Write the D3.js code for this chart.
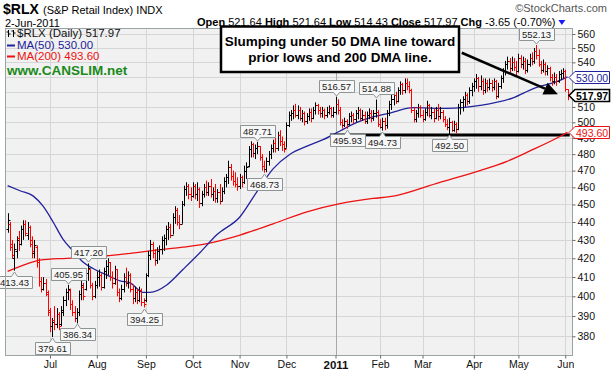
<!DOCTYPE html>
<html>
<head>
<meta charset="utf-8">
<script src="https://cdn.jsdelivr.net/npm/d3@7"></script>
<style>
  body { margin: 0; background: #fff; }
  svg { display: block; font-family: "Liberation Sans", Arial, sans-serif; }
</style>
</head>
<body>
<div id="chart"></div>
<script>
// daily bars, 3-Jun-2010 .. 2-Jun-2011
const opens = [436,439,428,420,424,431,428,436,439,433,437,430,423,426,418,408,404,407,401,
  393,385,388,386,391,386,392,398,402,403,396,392,389,392,401,405,404,412,414,406,400,
  406,410,411,405,413,416,418,410,407,414,402,399,404,410,407,411,404,399,402,398,403,397,
  398,411,422,428,423,419,424,425,430,431,436,437,433,443,447,440,439,450,459,461,456,
  455,461,456,459,451,456,460,457,461,456,458,454,457,452,458,464,466,472,467,464,462,
  461,466,463,470,473,483,486,481,484,485,478,473,471,476,480,484,487,484,492,488,486,
  484,498,505,506,508,505,508,503,506,501,504,507,503,508,511,508,506,508,505,507,509,505,
  507,512,508,500,498,501,499,504,505,502,506,508,503,505,501,505,506,503,506,507,
  499,497,501,498,506,512,515,518,514,521,525,521,526,524,521,508,502,506,510,
  505,502,507,511,505,507,503,508,504,507,502,499,497,500,495,499,496,510,513,515,518,514,521,
  524,527,529,524,527,521,526,523,526,523,527,517,524,529,534,539,541,536,540,537,
  534,543,539,541,535,539,543,541,548,545,539,535,539,534,536,530,527,530,527,532,533,
  534,521.64];
const highs = [445,440,430,428,432,435,438,441,441,440,438,432,430,427,420,410,410,409,403,
  394,389,395,394,392,395,400,404,405.95,404,398,395,394,403,408,407,414,417.20,414,407,408,
  413,414,412,415,419,420,418,413,416,414,404,406,412,415,413,412,406,405,404,405,404,399,
  412,424,430,429,425,426,427,432,433,438,440,439,445,449,448,444,452,461,463,462,460,
  463,462,463,460,458,462,464,463,465,460,462,459,462,460,466,468,476,474,470,469,466,
  468,467,473,475,485,488,487,486,487.71,485,480,476,478,482,486,489,490,494,495,491,488,
  500,507,508,511,512,511,510,508,507,506,509,509,510,513,512,510,510,509,510,511,510,510,
  516.57,515,510,502,503,502,506,507,506,508,510,509,508,507,507,509,508,508,514.88,508,
  502,503,503,508,514,518,521,520,523,527,526,529,529,527,522,510,508,512,511,
  508,509,514,512,510,509,510,512,510,508,504,502,503,501,501,500,512,515,517,520,519,523,526,
  529,532,530,531,529,529,528,529,528,529,528,526,531,536,541,544,543,544,543,541,
  546,545,544,543,542,546,547,550,552.13,549,541,542,540,538,537,532,533,532,534,535,536,
  535,521.64];
const lows = [434,424,420,413.43,420,424,427,430,432,430,426,420,420,415,405,402,403,400,390,
  382,379.61,383,384,383,385,390,395,398,393,390,387,386.34,390,398,398,403,408,404,398,399,
  404,405,403,404,409,411,408,404,406,400,397,398,402,405,404,402,396,397,396,397,395,394.25,
  397,410,419,420,416,417,419,422,424,427,430,431,433,439,438,436,439,449,455,453,452,
  454,453,452,448,449,454,455,455,454,452,451,451,450,452,456,460,462,464,461,460,458,
  459,460,462,465,472,478,478,477,480,476,470,468.73,469,473,477,481,481,482,485,482,481,
  484,497,501,502,503,502,501,500,498,499,501,500,502,505,505,503,503,502,503,505,503,503,
  505,505,498,496,497,495.93,498,500,499,500,502,501,501,499,499,502,500,501,503,497,
  496,494.73,495,496,504,508,511,512,513,518,518,519,521,519,506,500,500,503,503,
  500,501,504,503,502,500,502,501,502,500,497,495,492.50,494,494,493,495,505,507,510,511,512,517,
  520,522,520,521,518,519,520,521,520,521,515,516,522,526,531,535,533,534,534,531,
  533,536,535,532,533,537,538,539,542,537,532,533,531,531,527,524,525,524,526,528,529,
  520,514.43];
const closes = [441,426,422,425,430,428,436,439,434,437,428,424,427,418,408,404,407,402,392,
  385,387,386,391,385,393,398,402,404,396,392,389,392,401,406,400,412,415,406,400,406,
  410,411,405,413,416,418,410,407,414,402,399,404,410,407,411,404,399,402,398,403,397,396,
  411,422,428,423,419,424,425,430,431,436,437,433,443,447,440,439,450,459,461,456,455,
  461,456,459,451,456,460,457,461,456,458,454,457,452,458,464,466,472,467,464,462,461,
  466,463,470,472,483,486,481,484,485,478,473,471,476,480,484,487,484,492,488,486,483,
  498,505,506,508,505,508,503,506,501,504,507,503,508,511,508,506,508,505,507,509,505,507,
  512,508,500,498,501,499,504,505,502,506,508,503,505,501,505,506,503,506,507,499,
  497,501,498,506,512,515,518,514,521,525,521,526,524,521,508,502,506,510,505,
  502,507,511,505,507,503,508,504,507,502,499,497,500,495,499,496,510,513,515,518,514,521,524,
  527,529,524,527,521,526,523,526,523,527,517,524,529,534,539,541,536,540,537,534,
  543,539,541,535,539,543,541,548,545,539,535,539,534,536,530,527,530,527,532,533,534,
  521.62,517.97];

// moving averages, read at sample bars
const ma50Idx = [0,5.6,11.4,15.9,20.4,24.8,29.3,33.8,38.3,44.6,50.4,54.9,60.7,63.8,71.5,78.6,86.2,93.9,104.2,111.8,119,126.6,134.2,141.4,149,156.6,163.8,171.4,181.7,197,211.8,226.6,235.5,247.6,251];
const ma50Val = [461,458,455,449,440,430.5,424,418,414.5,411,408,407,402,402,406,414,423,433,443,457.5,471,480,485,489,494.5,500,503.5,506,509.5,509,511,516,522,527.6,530];
const ma200Idx = [0,8.7,14.5,26.6,41.4,54.9,63.8,78.6,89.4,104.2,119,134.2,149,163.8,171.4,193.8,211.8,223.9,234.2,247.6,251];
const ma200Val = [413,417,419,420,421,422.7,424,426,428,432.7,439,445.8,450.5,453.5,454.5,463,470,475.6,482,491,493.6];

const monthIdx = [19,40,62,83,104,125,147,167,186,209,229,250];
const monthLabels = ["Jul","Aug","Sep","Oct","Nov","Dec","2011","Feb","Mar","Apr","May","Jun"];
const priceTicks = [380,390,400,410,420,430,440,450,460,470,480,490,500,510,520,530,540,550,560];

const labelIdx = [3,20,27,31,36,61,112,115,147,152,165,168,198,237];
const labelSide = ["low","low","high","low","high","low","high","low","high","low","high","low","low","high"];

const supportLevel = 492;
const ma50Last = 530.00, ma200Last = 493.60;

const W = 614, H = 372;
const P = { l: 5, t: 28, r: 572, b: 355 };

const svg = d3.select("#chart").append("svg").attr("width", W).attr("height", H);

const x = d3.scaleLinear().domain([0, closes.length - 1]).range([7.6, 567.5]);
const y = d3.scaleLog().domain([380, 560]).range([336.3, 34]);
const px = v => Math.round(x(v)) + 0.5;
const py = v => Math.round(y(v)) + 0.5;

svg.append("defs").append("clipPath").attr("id", "plotclip")
  .append("rect").attr("x", P.l).attr("y", P.t).attr("width", P.r - P.l).attr("height", P.b - P.t);

// plot background + grid
svg.append("rect").attr("x", P.l).attr("y", P.t).attr("width", P.r - P.l).attr("height", P.b - P.t)
  .attr("fill", "#f1f1f1");

const grid = svg.append("g").attr("clip-path", "url(#plotclip)");
grid.selectAll(".hg").data(priceTicks).enter().append("line")
  .attr("x1", P.l).attr("x2", P.r).attr("y1", d => py(d)).attr("y2", d => py(d))
  .attr("stroke", "#d6d6d6").attr("stroke-width", 1);
grid.selectAll(".vg").data(monthIdx).enter().append("line")
  .attr("x1", d => px(d)).attr("x2", d => px(d)).attr("y1", P.t).attr("y2", P.b)
  .attr("stroke", (d, i) => monthLabels[i] === "2011" ? "#a8a8a8" : "#d6d6d6").attr("stroke-width", 1);

const plot = svg.append("g").attr("clip-path", "url(#plotclip)");

// support line at prior lows
plot.append("line")
  .attr("x1", x(144.5)).attr("x2", x(252)).attr("y1", y(supportLevel)).attr("y2", y(supportLevel))
  .attr("stroke", "#000").attr("stroke-width", 3);

// moving averages
const maLine = d3.line().x(d => x(d[0])).y(d => y(d[1])).curve(d3.curveMonotoneX);
plot.append("path").datum(d3.zip(ma200Idx, ma200Val)).attr("d", maLine)
  .attr("fill", "none").attr("stroke", "#ee1111").attr("stroke-width", 1.3);
plot.append("path").datum(d3.zip(ma50Idx, ma50Val)).attr("d", maLine)
  .attr("fill", "none").attr("stroke", "#22229c").attr("stroke-width", 1.3);

// OHLC bars, red when close is below prior close
const bars = closes.map((c, i) => ({ i, o: opens[i], h: highs[i], l: lows[i], c,
  down: i > 0 && c < closes[i - 1] }));
plot.selectAll(".bar").data(bars).enter().append("path")
  .attr("d", d => {
    const cx = px(d.i);
    return `M${cx},${y(d.h)}V${y(d.l)}M${cx - 2},${py(d.o)}H${cx}M${cx},${py(d.c)}H${cx + 2}`;
  })
  .attr("fill", "none")
  .attr("stroke", d => d.down ? "#ff0000" : "#000")
  .attr("stroke-width", 1);

// high/low value callouts
const callouts = svg.append("g").attr("font-size", "9.5px");
labelIdx.forEach((idx, k) => {
  const side = labelSide[k];
  const v = side === "high" ? highs[idx] : lows[idx];
  const cx = px(idx);
  const g = callouts.append("g");
  const path = g.append("path");
  const t = g.append("text").text(v.toFixed(2)).attr("text-anchor", "middle").attr("fill", "#222");
  const w = t.node().getComputedTextLength() + 6;
  const l = Math.round(cx - w / 2) + 0.5, r = l + Math.round(w);
  let d;
  if (side === "high") {
    const tip = Math.round(y(v)) - 1;
    const b = tip - 4 + 0.5, top = b - 12;
    d = `M${l},${top}H${r}V${b}H${cx + 3}L${cx},${tip}L${cx - 3},${b}H${l}Z`;
    t.attr("x", cx).attr("y", b - 2.5);
  } else {
    const tip = Math.round(y(v)) + 1;
    const top = tip + 4 + 0.5, b = top + 12;
    d = `M${l},${top}H${cx - 3}L${cx},${tip}L${cx + 3},${top}H${r}V${b}H${l}Z`;
    t.attr("x", cx).attr("y", b - 2.5);
  }
  path.attr("d", d).attr("fill", "#f7f7f7").attr("stroke", "#8c9494").attr("stroke-width", 1);
});

// plot border
svg.append("rect").attr("x", P.l + 0.5).attr("y", P.t + 0.5)
  .attr("width", P.r - P.l).attr("height", P.b - P.t)
  .attr("fill", "none").attr("stroke", "#9aa4a4");

// right axis (labels under the price tags are hidden, as on the original)
const yAxis = svg.append("g").attr("transform", `translate(${P.r + 0.5},0)`)
  .call(d3.axisRight(y).tickValues(priceTicks).tickSize(3).tickPadding(2).tickFormat(d3.format("d")));
yAxis.select(".domain").remove();
yAxis.selectAll("line").attr("stroke", "#666");
yAxis.selectAll("text").attr("font-size", "10.5px").attr("font-family", "Liberation Sans, Arial, sans-serif").attr("fill", "#111");
yAxis.selectAll(".tick").filter(d => d === 520 || d === 530).select("text").remove();

// bottom axis
const xAxis = svg.append("g").attr("transform", `translate(0,${P.b + 0.5})`)
  .call(d3.axisBottom(x).tickValues(monthIdx).tickSize(3).tickPadding(2)
    .tickFormat((d, i) => monthLabels[i]));
xAxis.select(".domain").remove();
xAxis.selectAll("line").attr("stroke", "#666");
xAxis.selectAll("text").attr("font-family", "Liberation Sans, Arial, sans-serif")
  .attr("fill", "#111")
  .attr("font-weight", (d, i) => monthLabels[i] === "2011" ? "bold" : null)
  .attr("font-size", (d, i) => monthLabels[i] === "2011" ? "11.5px" : "10.5px");

// right-edge price tags
function priceTag(v, color, bold) {
  const yy = Math.round(y(v)) + 0.5;
  svg.append("path").attr("d", `M${P.r - 3},${yy}L${P.r + 3},${yy - 6}H609.5V${yy + 6}H${P.r + 3}Z`)
    .attr("fill", "#fff").attr("stroke", color).attr("stroke-width", bold ? 1.6 : 1);
  svg.append("text").attr("x", P.r + 4).attr("y", yy + 4).text(v.toFixed(2))
    .attr("fill", color).attr("font-size", "10.5px").attr("font-weight", bold ? "bold" : null);
}
priceTag(ma50Last, "#22229c", false);
priceTag(closes[closes.length - 1], "#000", true);
priceTag(ma200Last, "#ee1111", false);

// annotation
const note = svg.append("g");
note.append("rect").attr("x", 221).attr("y", 26.5).attr("width", 238).attr("height", 45.5)
  .attr("fill", "#fff").attr("stroke", "#000").attr("stroke-width", 2.5);
note.append("text").attr("x", 340).attr("y", 45.5).attr("text-anchor", "middle")
  .attr("font-weight", "bold").attr("font-size", "13.5px").text("Slumping under 50 DMA line toward");
note.append("text").attr("x", 340).attr("y", 61.5).attr("text-anchor", "middle")
  .attr("font-weight", "bold").attr("font-size", "13.5px").text("prior lows and 200 DMA line.");

const a0 = [x(203.6), y(546.7)], a1 = [x(246.7), y(518.4)];
const ang = Math.atan2(a1[1] - a0[1], a1[0] - a0[0]);
const hl = 14, hw = 6.5;
const base = [a1[0] - hl * Math.cos(ang), a1[1] - hl * Math.sin(ang)];
note.append("line").attr("x1", a0[0]).attr("y1", a0[1]).attr("x2", base[0]).attr("y2", base[1])
  .attr("stroke", "#000").attr("stroke-width", 2.5);
note.append("path")
  .attr("d", `M${a1[0]},${a1[1]}L${base[0] - hw * Math.sin(ang)},${base[1] + hw * Math.cos(ang)}L${base[0] + hw * Math.sin(ang)},${base[1] - hw * Math.cos(ang)}Z`)
  .attr("fill", "#000");

// legend
const lg = svg.append("g").attr("font-size", "11.5px");
lg.append("path").attr("d", "M8.5,30V37M6.5,32H8.5M8.5,34H10.5M13.5,30V37M11.5,31H13.5M13.5,33H15.5")
  .attr("stroke", "#000").attr("fill", "none");
lg.append("text").attr("x", 17).attr("y", 37).text("$RLX (Daily) 517.97").attr("fill", "#111");
lg.append("line").attr("x1", 7).attr("x2", 15).attr("y1", 45.5).attr("y2", 45.5).attr("stroke", "#22229c").attr("stroke-width", 2);
lg.append("text").attr("x", 17).attr("y", 49).text("MA(50) 530.00").attr("fill", "#22229c");
lg.append("line").attr("x1", 7).attr("x2", 15).attr("y1", 56.5).attr("y2", 56.5).attr("stroke", "#ee1111").attr("stroke-width", 2);
lg.append("text").attr("x", 17).attr("y", 60).text("MA(200) 493.60").attr("fill", "#ee1111");
lg.append("text").attr("x", 7).attr("y", 75).text("www.CANSLIM.net")
  .attr("fill", "#1a8a1a").attr("font-weight", "bold").attr("font-size", "13.5px");

// header
const hd = svg.append("g").attr("fill", "#000");
hd.append("text").attr("x", 3).attr("y", 13.5).attr("font-size", "14px").attr("font-weight", "bold").text("$RLX");
hd.append("text").attr("x", 43).attr("y", 13.5).attr("font-size", "11px").text("(S&P Retail Index) INDX");
hd.append("text").attr("x", 5).attr("y", 26.5).attr("font-size", "11px").text("2-Jun-2011");
hd.append("text").attr("x", 607).attr("y", 12).attr("font-size", "11px").attr("fill", "#555")
  .attr("text-anchor", "end").text("\u00A9StockCharts.com");

const quote = hd.append("text").attr("x", 197).attr("y", 26).attr("font-size", "11px");
const qParts = [["Open", true], [" 521.64 ", false], ["High", true], [" 521.64 ", false], ["Low", true],
  [" 514.43 ", false], ["Close", true], [" 517.97 ", false], ["Chg", true], [" -3.65 (-0.70%)", false]];
qParts.forEach(([s, b]) => quote.append("tspan").text(s).attr("font-weight", b ? "bold" : null)
  .attr("xml:space", "preserve"));
quote.attr("xml:space", "preserve");
const qEnd = 197 + quote.node().getComputedTextLength();
hd.append("path").attr("d", `M${qEnd + 3},20H${qEnd + 10}L${qEnd + 6.5},25Z`).attr("fill", "#1a1aff");
</script>
</body>
</html>
